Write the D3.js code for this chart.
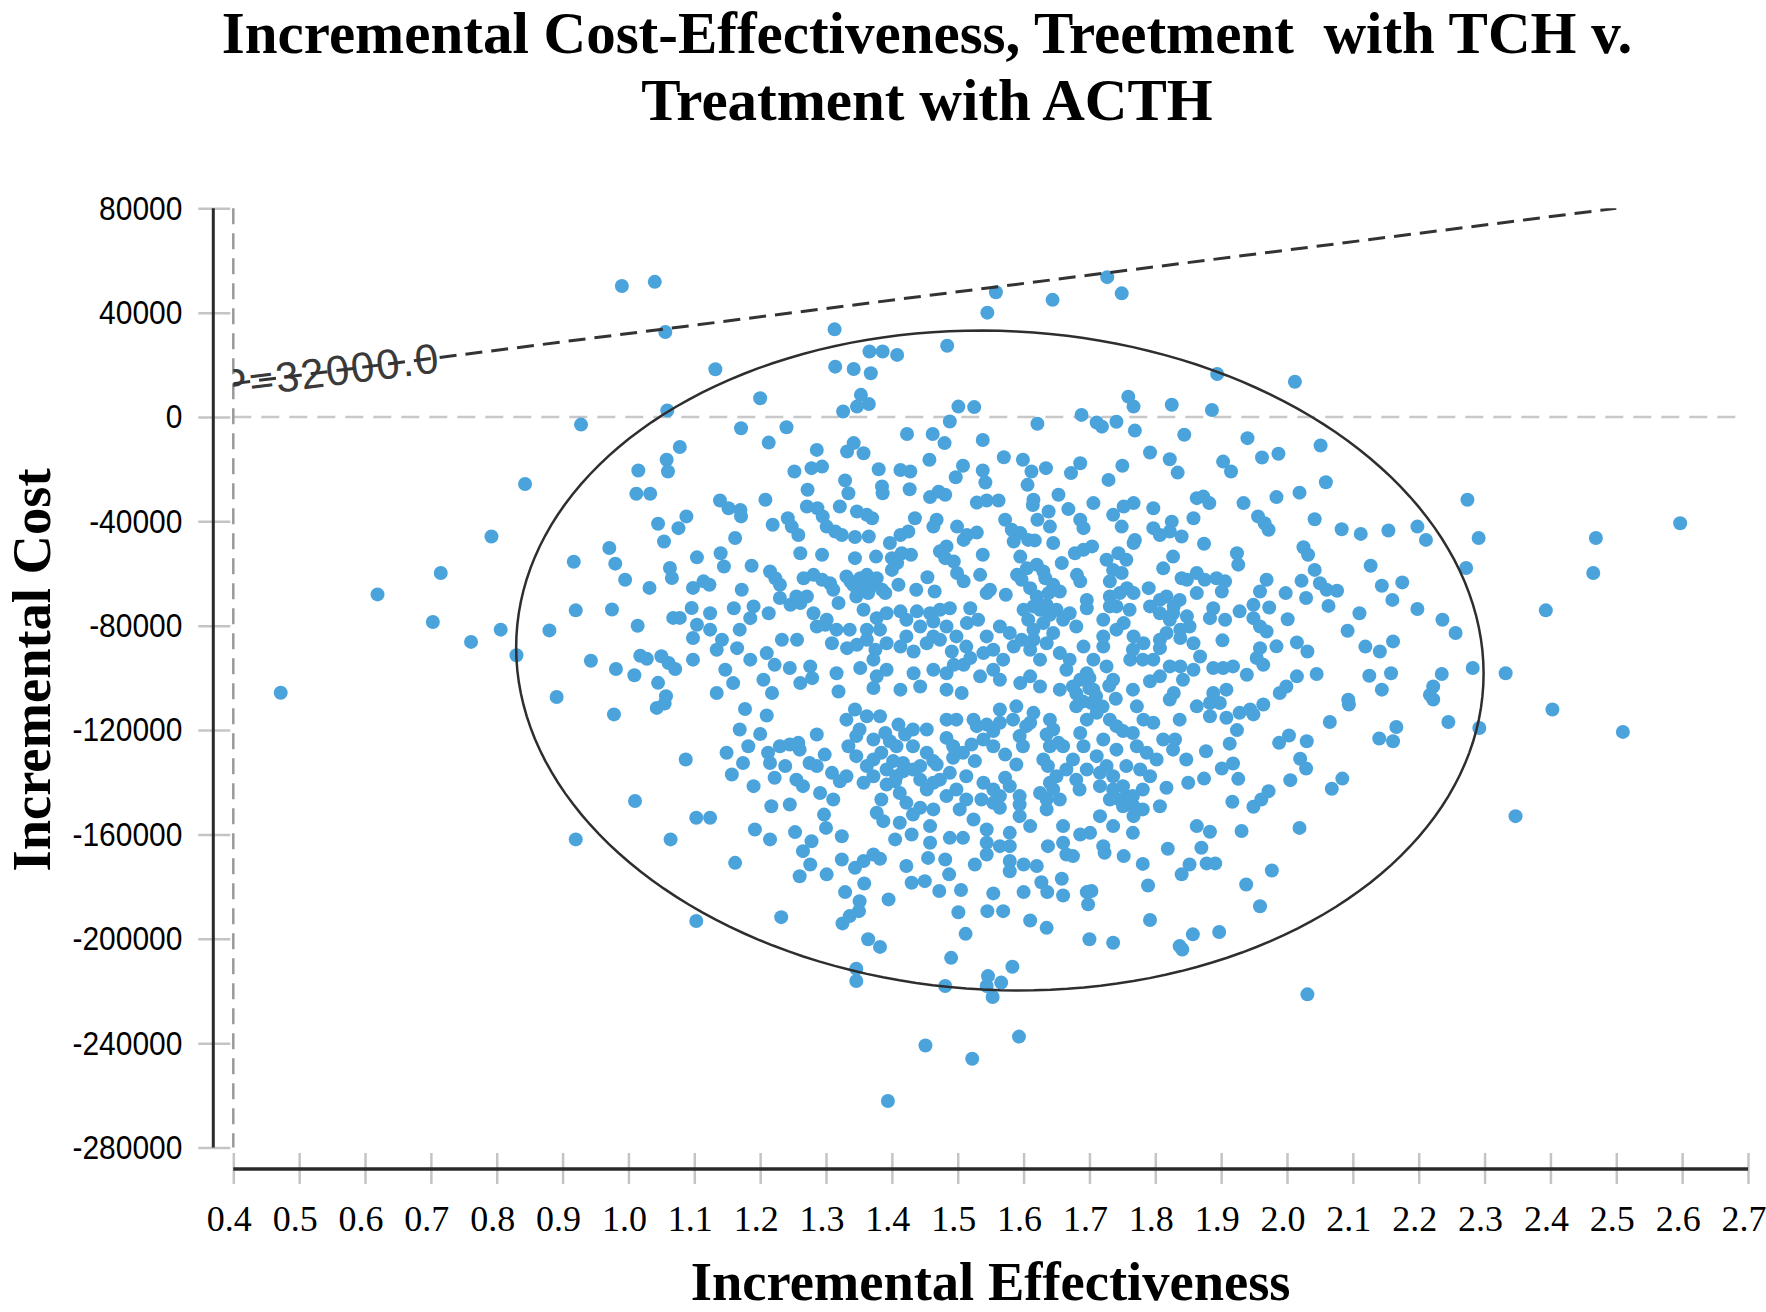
<!DOCTYPE html>
<html><head><meta charset="utf-8">
<script src="https://cdn.jsdelivr.net/npm/d3@7"></script>
<style>body{margin:0;background:#fff}svg{display:block}</style>
</head><body>
<svg id="chart" width="1766" height="1312"></svg>
<script>
const titleLines = ["Incremental Cost-Effectiveness, Treetment  with TCH v.", "Treatment with ACTH"];
const xTitle = "Incremental Effectiveness";
const yTitle = "Incremental Cost";
const xTicks = [0.4,0.5,0.6,0.7,0.8,0.9,1.0,1.1,1.2,1.3,1.4,1.5,1.6,1.7,1.8,1.9,2.0,2.1,2.2,2.3,2.4,2.5,2.6,2.7];
const yTicks = [80000,40000,0,-40000,-80000,-120000,-160000,-200000,-240000,-280000];
const wtp = 32000;
const wtpLabel = "WTP=32000.0";
const wtpLabelEnd = 0.714;
const ellipseCenter = [1.564, -93330];
const ellipseRadii = [0.735, 126300];
const ellipseTilt = 2.9;
const points = [
[0.99,50200],[1.04,51800],[1.056,32600],[1.059,2500],[0.928,-2900],[1.078,-11500],[1.058,-16400],[1.06,-20900],[1.015,-20500],[1.012,-29400],[1.033,-29400],[0.843,-25700],[1.088,-38100],[1.045,-40900],[1.076,-42600],[1.054,-47700],[0.792,-45800],[0.971,-50200],[0.98,-56200],[0.917,-55500],[1.104,-53800],[1.063,-57900],[1.066,-61700],[0.995,-62400],[1.032,-65500],[1.098,-65500],[0.715,-59800],[0.619,-68000],[0.92,-74100],[0.975,-73800],[1.096,-73200],[1.068,-77000],[1.078,-77000],[1.014,-80000],[1.104,-79600],[0.703,-78600],[0.806,-81500],[0.88,-81800],[0.761,-86200],[0.83,-91300],[0.943,-93400],[0.981,-96600],[1.009,-99000],[1.018,-91500],[1.028,-92700],[1.05,-91700],[1.061,-94300],[1.071,-96600],[1.045,-101900],[1.098,-93000],[1.098,-84700],[0.472,-105700],[1.057,-107000],[0.891,-107300],
[1.558,47800],[1.545,40000],[1.644,44900],[1.727,53600],[1.749,47400],[1.313,33600],[1.484,27300],[1.366,25100],[1.386,25100],[1.408,23800],[1.314,19300],[1.342,18400],[1.368,16800],[1.132,18300],[1.2,7200],[1.353,8500],[1.365,5000],[1.347,4000],[1.326,2100],[1.501,4000],[1.525,3800],[1.488,-1700],[1.759,7800],[1.767,4000],[1.741,-1800],[1.825,4700],[1.688,800],[1.711,-2100],[1.719,-3700],[1.621,-2600],[1.769,-5200],[1.844,-6800],[1.171,-4300],[1.24,-3900],[1.213,-9800],[1.423,-6500],[1.462,-6500],[1.48,-10000],[1.538,-8800],[1.342,-10000],[1.332,-13200],[1.357,-13900],[1.286,-12600],[1.278,-19600],[1.294,-19000],[1.252,-20900],[1.38,-20000],[1.413,-20300],[1.428,-20900],[1.457,-16400],[1.508,-18700],[1.497,-23100],[1.538,-20500],[1.542,-25100],[1.57,-15400],[1.599,-16400],[1.612,-20900],[1.634,-19600],[1.606,-26000],[1.686,-17700],[1.672,-21500],[1.729,-24100],[1.75,-18700],[1.792,-13600],[1.822,-16200],[1.834,-21300],[1.329,-24300],[1.334,-29200],[1.385,-26600],[1.386,-29200],[1.427,-27700],[1.272,-27900],[1.139,-32000],[1.152,-35000],[1.17,-35600],[1.171,-38100],[1.208,-31700],[1.271,-34300],[1.287,-35000],[1.295,-38100],[1.321,-34300],[1.347,-36200],[1.362,-37500],[1.37,-38800],[1.458,-30700],[1.471,-28600],[1.481,-29800],[1.529,-32800],[1.544,-32000],[1.562,-32000],[1.615,-31700],[1.614,-33700],[1.653,-29800],[1.706,-33000],[1.752,-34300],[1.767,-33000],[1.736,-37500],[1.797,-35000],[1.863,-31100],[1.858,-38800],[1.638,-36200],[1.668,-35300],[1.621,-39400],[1.686,-39400],[1.64,-42000],[1.691,-42600],[1.572,-39400],[1.582,-43200],[1.595,-44500],[1.607,-47100],[1.617,-47300],[1.585,-47700],[1.645,-48300],[1.435,-38800],[1.468,-39400],[1.463,-42000],[1.499,-42000],[1.514,-45200],[1.529,-44300],[1.509,-47100],[1.162,-46400],[1.219,-41300],[1.242,-38800],[1.248,-42000],[1.258,-45200],[1.301,-42000],[1.314,-43900],[1.324,-45200],[1.344,-46000],[1.365,-45800],[1.397,-48300],[1.413,-45200],[1.425,-43900],[1.749,-42000],[1.769,-47100],[1.807,-45200],[1.822,-43900],[1.84,-45800],[1.825,-40100],[1.797,-42600],
[1.14,-52200],[1.145,-57300],[1.187,-57000],[1.261,-52200],[1.294,-52800],[1.344,-54100],[1.376,-53500],[1.4,-54100],[1.415,-52200],[1.429,-52800],[1.408,-56000],[1.4,-58600],[1.473,-51500],[1.483,-49600],[1.481,-54100],[1.494,-55400],[1.538,-52800],[1.658,-56000],[1.678,-52200],[1.704,-49600],[1.691,-50900],[1.744,-52200],[1.756,-54700],[1.767,-48300],[1.827,-53500],[1.812,-58000],[1.84,-61800],[1.863,-59800],[1.595,-53500],[1.605,-58000],[1.62,-56600],[1.63,-59200],[1.59,-60500],[1.114,-63000],[1.123,-64300],[1.172,-66200],[1.215,-59200],[1.223,-61800],[1.23,-64300],[1.266,-61800],[1.281,-60500],[1.294,-62400],[1.306,-63700],[1.311,-66200],[1.337,-63000],[1.352,-61800],[1.362,-60500],[1.372,-64300],[1.385,-66200],[1.347,-65600],[1.41,-64300],[1.437,-66200],[1.454,-61400],[1.465,-66900],[1.499,-59800],[1.509,-63000],[1.534,-60500],[1.549,-66200],[1.573,-68100],[1.633,-61800],[1.645,-64300],[1.638,-67500],[1.655,-66900],[1.681,-60500],[1.686,-63000],[1.731,-63000],[1.749,-59800],[1.757,-65600],[1.767,-67500],[1.79,-65600],[1.817,-68800],[1.828,-72600],[1.848,-62400],[1.863,-67500],
[1.23,-69400],[1.246,-72000],[1.261,-71300],[1.271,-68800],[1.19,-72600],[1.185,-77100],[1.16,-73300],[1.213,-75200],[1.319,-71300],[1.357,-73900],[1.377,-77100],[1.392,-75200],[1.413,-74500],[1.438,-74500],[1.458,-75200],[1.473,-73900],[1.488,-73300],[1.463,-78400],[1.483,-80300],[1.519,-73300],[1.514,-79000],[1.531,-77700],[1.544,-67500],[1.6,-73900],[1.607,-77700],[1.615,-81500],[1.635,-72000],[1.66,-77700],[1.696,-70100],[1.696,-73300],[1.721,-77700],[1.731,-72600],[1.752,-79000],[1.792,-72600],[1.807,-75200],[1.822,-77700],[1.838,-81500],[1.848,-76400],[1.124,-81500],[1.142,-85400],[1.165,-88600],[1.233,-85400],[1.256,-85400],[1.299,-79600],[1.316,-81500],[1.309,-86700],[1.332,-88600],[1.347,-87300],[1.362,-85400],[1.375,-89200],[1.392,-86700],[1.413,-88000],[1.433,-89900],[1.453,-86700],[1.473,-85400],[1.491,-89900],[1.554,-89200],[1.585,-88000],[1.597,-85400],[1.635,-86700],[1.655,-90500],[1.67,-93000],[1.691,-88000],[1.721,-84100],[1.767,-84100],[1.782,-86700],[1.807,-88600],[1.838,-84700],[1.858,-86700],[1.21,-90500],[1.222,-95000],[1.245,-96200],[1.276,-95600],[1.205,-100700],[1.218,-105800],[1.134,-105800],[1.147,-96900],[1.261,-102000],[1.279,-100100],[1.316,-98200],[1.319,-105200],[1.352,-96200],[1.372,-93000],[1.377,-99400],[1.372,-103900],[1.392,-96900],[1.413,-104500],[1.433,-98200],[1.443,-103300],[1.463,-96900],[1.483,-98200],[1.494,-95000],[1.509,-95000],[1.519,-92400],[1.483,-104500],[1.506,-105800],[1.534,-99400],[1.554,-96900],[1.564,-100700],[1.595,-102000],[1.61,-99400],[1.625,-103300],[1.655,-104500],[1.665,-96900],[1.686,-100700],[1.706,-104500],[1.726,-95600],[1.736,-100700],[1.762,-93000],[1.792,-101300],[1.822,-95600],[1.838,-95600],[1.828,-105800],[1.797,-93000],
[1.894,16500],[2.012,13500],[1.886,2700],[1.94,-8100],[2.051,-10900],[1.903,-17100],[1.915,-20900],[1.962,-15500],[1.987,-14100],[2.059,-25000],[1.873,-30500],[1.882,-33000],[1.934,-33000],[1.984,-30700],[2.019,-29000],[2.042,-39200],[1.956,-38100],[1.966,-40700],[1.972,-43200],[2.274,-31700],[2.597,-40700],[2.469,-46400],[2.291,-46400],[2.198,-42000],[2.211,-47100],[2.083,-43000],[2.112,-44800],[2.154,-43500],[1.874,-48600],[1.924,-52200],[1.926,-56600],[2.025,-49900],[2.032,-52800],[2.127,-57000],[2.272,-57900],[2.465,-59800],[2.042,-58600],[1.875,-62400],[1.893,-61800],[1.906,-63000],[1.901,-66900],[1.969,-62400],[1.959,-66900],[2.022,-62800],[2.05,-63700],[2.06,-66200],[2.076,-66600],[1.998,-67500],[2.029,-69400],[2.144,-64700],[2.175,-63400],[2.16,-70100],[2.063,-72400],[1.973,-73000],[1.888,-73300],[1.883,-77100],[1.906,-77700],[1.928,-74500],[1.949,-72000],[1.949,-77100],[1.959,-80300],[1.969,-82200],[2.001,-77500],[2.11,-75200],[2.198,-73600],[2.236,-77700],[2.256,-82800],[2.393,-74100],[2.092,-81900],[1.902,-85600],[1.984,-87900],[2.015,-86400],[2.031,-89900],[2.119,-88000],[2.141,-89900],[2.161,-86000],[1.959,-88600],[1.954,-92400],[1.964,-95000],[1.868,-91800],[1.888,-96200],[1.918,-95600],[1.939,-98800],[1.903,-96200],[2.045,-98500],[2.125,-99200],[2.158,-98200],[2.144,-104500],[2.282,-96200],[2.332,-98200],[2.235,-98500],[2.222,-103300],[2.217,-106500],[2.015,-99400],[1.999,-103300],[1.989,-105800],[1.908,-104500],[1.888,-105800],[2.093,-108400],
[0.978,-114000],[1.043,-111500],[1.055,-109800],[1.087,-131300],[1.01,-147200],[1.103,-153600],[0.92,-161900],[1.064,-161900],[1.103,-193200],
[1.177,-111900],[1.21,-114400],[1.2,-121500],[1.149,-128700],[1.182,-126200],[1.174,-132600],[1.157,-137000],[1.212,-128700],[1.215,-132600],[1.23,-126200],[1.245,-125500],[1.258,-124900],[1.238,-133800],[1.222,-138300],[1.255,-139000],[1.286,-121700],[1.298,-129400],[1.286,-133800],[1.309,-136400],[1.321,-139600],[1.331,-137700],[1.217,-149200],[1.245,-148500],[1.124,-153600],[1.192,-158100],[1.215,-161900],[1.253,-159100],[1.297,-152400],[1.3,-157500],[1.324,-160700],[1.278,-162600],[1.265,-166400],[1.162,-170900],[1.276,-171500],[1.26,-176000],[1.301,-175300],[1.324,-169600],[1.344,-172800],[1.357,-170200],[1.372,-167700],[1.382,-169300],[1.358,-178800],[1.329,-182100],[1.351,-185600],[1.35,-189400],[1.336,-191300],[1.325,-194100],[1.232,-191700],[1.395,-184900],[1.364,-200200],[1.382,-203100],[1.346,-211500],[1.346,-216200],[1.481,-218100],[1.49,-207300],[1.546,-214300],[1.544,-218100],[1.553,-222300],[1.566,-216800],[1.583,-210700],[1.512,-198100],[1.501,-189800],[1.545,-189400],[1.569,-189400],[1.554,-182600],[1.61,-193000],[1.635,-195800],[1.6,-182100],[1.627,-178300],[1.636,-182100],[1.66,-183400],[1.658,-177000],[1.696,-182100],[1.698,-186800],[1.703,-181700],[1.7,-200200],[1.736,-201500],[1.792,-192800],[1.789,-179600],[1.781,-171300],[1.819,-165500],[1.752,-168300],[1.837,-202800],[1.841,-204100],[1.857,-198300],[1.84,-175300],[1.852,-171500],[1.451,-240900],[1.522,-246000],[1.593,-237500],[1.394,-262200],[1.472,-181700],[1.505,-181300],[1.487,-175300],[1.422,-172100],[1.43,-178500],[1.45,-177900],[1.405,-161900],[1.43,-160000],[1.458,-156800],[1.458,-163200],[1.455,-169000],[1.481,-169600],[1.488,-161300],[1.508,-161300],[1.526,-171500],[1.544,-158100],[1.544,-163200],[1.544,-167700],[1.564,-164500],[1.579,-159400],[1.579,-164500],[1.579,-170200],[1.579,-174100],[1.6,-171500],[1.62,-172100],[1.637,-164500],[1.66,-163200],[1.665,-167700],[1.675,-168300],[1.686,-160000],[1.701,-159400],[1.721,-164500],[1.723,-167000],
[1.384,-146600],[1.377,-151700],[1.387,-154900],[1.412,-155500],[1.432,-152400],[1.443,-149800],[1.405,-139600],[1.392,-140900],[1.417,-135800],[1.432,-135100],[1.453,-142800],[1.473,-139000],[1.483,-145300],[1.498,-142800],[1.513,-146600],[1.536,-146600],[1.554,-147900],[1.564,-149800],[1.594,-145300],[1.594,-148500],[1.468,-133200],[1.493,-130600],[1.508,-128700],[1.493,-126200],[1.463,-131900],[1.526,-131900],[1.572,-138300],[1.589,-133200],[1.521,-125500],[1.529,-118500],[1.544,-117900],[1.564,-117200],[1.584,-116000],[1.554,-120400],[1.572,-129400],[1.483,-123000],[1.483,-116000],[1.498,-116000],[1.453,-119800],[1.432,-119800],[1.41,-117900],[1.42,-121700],[1.397,-124300],[1.382,-114700],[1.362,-114700],[1.344,-112100],[1.351,-119800],[1.334,-126200],[1.346,-130000],[1.362,-133800],[1.372,-131300],[1.384,-128700],[1.402,-131900],[1.417,-132600],[1.443,-133800],[1.357,-140200],[1.372,-137700],[1.604,-118500],[1.594,-122300],[1.599,-126200],[1.61,-117200],[1.635,-121700],[1.645,-119800],[1.653,-124900],[1.64,-126200],[1.63,-131300],[1.637,-133800],[1.65,-137700],[1.645,-142800],[1.635,-146600],[1.635,-150400],[1.665,-135100],[1.68,-139000],[1.685,-142800],[1.691,-126200],[1.686,-121100],[1.696,-116000],[1.68,-110900],[1.703,-109600],[1.721,-123600],[1.711,-130000],[1.726,-133800],[1.736,-137700],[1.716,-141500],[1.751,-141500],[1.756,-145300],[1.767,-149200],[1.767,-153000],[1.746,-146600],[1.772,-126200],[1.751,-120400],[1.741,-118500],[1.766,-121100],[1.787,-128700],[1.792,-137700],[1.781,-142800],[1.807,-149200],[1.817,-142100],[1.772,-110900],[1.797,-117200],[1.812,-123600],[1.83,-123600],[1.85,-140200],[1.863,-156800],[1.863,-110900],[1.822,-108300],
[1.883,-109600],[1.898,-109600],[1.883,-114700],[1.908,-115300],[1.928,-113400],[1.944,-112100],[1.949,-114000],[1.964,-110200],[2.094,-110200],[2.222,-108300],[2.403,-112100],[2.51,-120700],[2.292,-119200],[2.245,-116900],[2.166,-118800],[2.14,-123200],[2.161,-124300],[2.065,-116900],[1.924,-120000],[1.913,-125200],[1.877,-128100],[1.988,-124900],[2.003,-122100],[2.03,-124300],[2.02,-131000],[2.029,-134700],[1.901,-134700],[1.918,-132800],[1.874,-138600],[1.926,-138700],[2.005,-139200],[2.068,-142500],[2.084,-138600],[1.972,-143400],[1.961,-146600],[1.949,-149400],[1.917,-147500],[2.347,-153000],[2.019,-157500],[1.931,-158700],[1.883,-159000],[1.87,-165100],[1.878,-171100],[1.891,-171100],[1.977,-173800],[1.938,-179200],[1.959,-187500],[1.897,-197400],[2.031,-221300],
[1.331,-61100],[1.341,-64300],[1.359,-63000],[1.377,-61800],[1.39,-67500],[1.364,-67500],[1.346,-68800],[1.597,-62400],[1.61,-65600],[1.62,-68800],[1.625,-73900],[1.64,-75800],[1.615,-72600],[1.63,-79000],[1.645,-82800],[1.615,-85400],[1.61,-89200],[1.625,-93000],[1.65,-73900],[1.726,-54700],[1.736,-58600],[1.746,-67500],[1.731,-68800],[1.741,-72600],[1.761,-73900],[1.741,-81500],[1.721,-88000],[1.807,-70100],[1.837,-70100],[1.827,-75200],[1.852,-80300],[1.817,-82800],[1.807,-85400],[1.255,-68800],[1.281,-75200],[1.301,-77700],[1.286,-80300],[1.422,-77700],[1.443,-80300],[1.422,-84100],[1.463,-84100],[1.498,-84100],[1.513,-88000],[1.539,-90500],[1.382,-81500],[1.362,-81500],[1.336,-81500],[1.564,-80300],[1.579,-82800],[1.544,-84100],[1.569,-93000],[1.67,-75200],[1.68,-80300],[1.706,-93000],[1.696,-98200],[1.675,-103300],[1.766,-89200],[1.781,-93000],[1.807,-99400],[1.842,-100700],[1.858,-96900],[1.766,-104500],[1.124,-75200],[1.134,-89200],[1.169,-81500],[1.185,-93000],[1.159,-102000],
[1.331,-116000],[1.346,-122300],[1.372,-123600],[1.39,-121100],[1.407,-126200],[1.432,-126200],[1.453,-128700],[1.392,-135100],[1.407,-137700],[1.443,-139000],[1.463,-140200],[1.488,-136400],[1.513,-137700],[1.539,-140200],[1.554,-142800],[1.564,-145300],[1.579,-141500],[1.539,-123600],[1.554,-126200],[1.524,-116000],[1.564,-112100],[1.589,-110900],[1.615,-113400],[1.64,-116000],[1.66,-126200],[1.675,-131300],[1.696,-135100],[1.716,-136400],[1.736,-142800],[1.751,-149200],[1.731,-146600],[1.766,-145300],[1.781,-150400],[1.64,-140200],[1.625,-144100],[1.655,-146600],[1.741,-127500],[1.756,-133800],[1.777,-135100],[1.802,-131300],[1.827,-127500],[1.847,-131300],[1.711,-113400],[1.731,-116000],[1.782,-116000],[1.837,-116000],[1.503,-150400],[1.524,-154300],[1.463,-150400],[1.422,-147900],[1.412,-144100],[1.594,-153000],[1.61,-156800],[1.66,-156800],[1.716,-153000],[1.736,-156800],[1.766,-159400],[1.26,-127500],[1.275,-132600],[1.291,-144100],[1.311,-146600],[1.265,-141500],[1.19,-141500],[1.169,-119800],
[1.70,-104000],[1.71,-107000],[1.69,-109000],[1.72,-111000],[1.68,-106000],[1.73,-103000],[1.70,-100000],[1.74,-108000]
];

const W = 1766, H = 1312;
const serif = "'Liberation Serif','Times New Roman',serif";
const sans = "'Liberation Sans',Arial,sans-serif";
const svg = d3.select("#chart");
const x = d3.scaleLinear().domain([0.4, 2.7]).range([233.3, 1748]);
const y = d3.scaleLinear().domain([-280000, 80000]).range([1147.5, 208.3]);
const [x0, x1] = x.range();
const [yb, yt] = y.range();

svg.append("rect").attr("width", W).attr("height", H).attr("fill", "#fff");

// Title
const title = svg.append("text")
  .attr("text-anchor", "middle")
  .style("font-family", serif)
  .style("font-weight", "bold").style("font-size", "59px")
  .style("white-space", "pre").attr("fill", "#000");
titleLines.forEach((t, i) => {
  title.append("tspan").attr("x", 927).attr("y", i === 0 ? 53 : 120).text(t);
});

// clip
svg.append("defs").append("clipPath").attr("id", "plotclip")
  .append("rect").attr("x", x0).attr("y", yt).attr("width", x1 - x0).attr("height", yb - yt);

// reference lines
svg.append("line")
  .attr("x1", x0).attr("x2", x1 - 5).attr("y1", y(0)).attr("y2", y(0))
  .attr("stroke", "#c8c8c8").attr("stroke-width", 2.5).attr("stroke-dasharray", "18,10");
svg.append("line")
  .attr("x1", x(0.4)).attr("x2", x(0.4)).attr("y1", yt).attr("y2", yb)
  .attr("stroke", "#9a9a9a").attr("stroke-width", 2.5).attr("stroke-dasharray", "16,9");

// Y axis
const yAxis = d3.axisLeft(y).tickValues(yTicks).tickSizeInner(32).tickSizeOuter(0).tickPadding(16)
  .tickFormat(d => String(d));
const gy = svg.append("g").attr("transform", `translate(${x0 - 3},0)`).call(yAxis);
gy.select(".domain").remove();
gy.selectAll(".tick line").attr("stroke", "#c4c4c4").attr("stroke-width", 2.5);
const ySx = 0.88;
gy.selectAll(".tick text").attr("fill", "#000")
  .style("font-family", sans).style("font-size", "34px")
  .attr("x", -48 / ySx).attr("transform", `scale(${ySx},1)`);
svg.append("line").attr("x1", x0 - 20).attr("x2", x0 - 20).attr("y1", yt).attr("y2", yb)
  .attr("stroke", "#2a2a2a").attr("stroke-width", 3);

// X axis
const xAxis = d3.axisBottom(x).tickValues(xTicks).tickSizeInner(31).tickSizeOuter(0).tickPadding(21)
  .tickFormat(d3.format(".1f"));
const gx = svg.append("g").attr("transform", `translate(0,${yb + 5.5})`).call(xAxis);
gx.select(".domain").remove();
gx.selectAll(".tick line").attr("stroke", "#c4c4c4").attr("stroke-width", 2.5);
gx.selectAll(".tick text").attr("fill", "#000").attr("dx", -4.5)
  .style("font-family", serif).style("font-size", "36px");
svg.append("line").attr("x1", x0).attr("x2", x1).attr("y1", yb + 21.5).attr("y2", yb + 21.5)
  .attr("stroke", "#2a2a2a").attr("stroke-width", 3.5);

// Axis titles
svg.append("text").attr("x", (x0 + x1) / 2).attr("y", 1300).attr("text-anchor", "middle")
  .style("font-family", serif).style("font-weight", "bold")
  .style("font-size", "54.5px").text(xTitle);
svg.append("text").attr("transform", `translate(50,670) rotate(-90)`).attr("text-anchor", "middle")
  .style("font-family", serif).style("font-weight", "bold")
  .style("font-size", "54.5px").text(yTitle);

const plot = svg.append("g").attr("clip-path", "url(#plotclip)");

// Points
plot.append("g").selectAll("circle").data(points).join("circle")
  .attr("cx", d => x(d[0])).attr("cy", d => y(d[1])).attr("r", 7)
  .attr("fill", "#4ba3dc");

// Ellipse
const ellPts = d3.range(0, 360, 2).map(deg => {
  const t = deg * Math.PI / 180;
  return [x(ellipseCenter[0] + ellipseRadii[0] * Math.cos(t)), y(ellipseCenter[1] + ellipseRadii[1] * Math.sin(t))];
});
plot.append("path").attr("d", d3.line()(ellPts) + "Z")
  .attr("transform", `rotate(${ellipseTilt},${x(ellipseCenter[0])},${y(ellipseCenter[1])})`)
  .attr("fill", "none").attr("stroke", "#2e2e2e").attr("stroke-width", 2.5);

// WTP line + label
const eMax = y.domain()[1] / wtp;
const wtpPts = [[0.4, wtp * 0.4], [eMax, wtp * eMax]];
const ang = Math.atan2(y(wtpPts[1][1]) - y(wtpPts[0][1]), x(wtpPts[1][0]) - x(wtpPts[0][0])) * 180 / Math.PI;
plot.append("text")
  .attr("transform", `translate(${x(wtpLabelEnd)},${y(wtp * wtpLabelEnd)}) rotate(${ang})`)
  .attr("text-anchor", "end").attr("dominant-baseline", "central")
  .style("font-family", sans).style("font-size", "42px")
  .style("letter-spacing", "2px").attr("fill", "#3a3a3a").text(wtpLabel);
plot.append("path").attr("d", d3.line().x(d => x(d[0])).y(d => y(d[1]))(wtpPts))
  .attr("fill", "none").attr("stroke", "#333").attr("stroke-width", 3).attr("stroke-dasharray", "17,9");
</script>
</body></html>
